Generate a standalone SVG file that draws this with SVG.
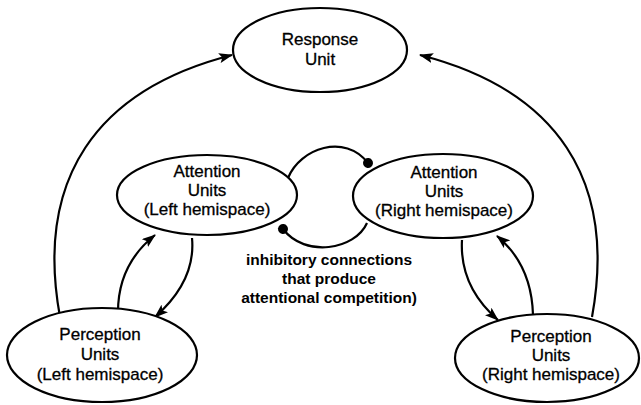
<svg xmlns="http://www.w3.org/2000/svg" width="641" height="405" viewBox="0 0 641 405">
<style>
.node ellipse{fill:#fff;stroke:#000;stroke-width:2.2}
.node text{font-family:"Liberation Sans",Arial,sans-serif;font-size:17px;text-anchor:middle;fill:#000;stroke:#000;stroke-width:0.3}
.conn path{fill:none;stroke:#000;stroke-width:2.2}
.lbl{font-family:"Liberation Sans",Arial,sans-serif;font-size:15.5px;font-weight:bold;text-anchor:middle;fill:#000}
</style>
<defs>
<marker id="arr" markerUnits="userSpaceOnUse" markerWidth="14" markerHeight="10" refX="13" refY="5" orient="auto">
<path d="M0,0 L14,5 L0,10 L3,5 z" fill="#000"/>
</marker>
<marker id="dot" markerUnits="userSpaceOnUse" markerWidth="12" markerHeight="12" refX="6" refY="6" orient="auto">
<circle cx="6" cy="6" r="5" fill="#000"/>
</marker>
</defs>
<g id="connectors" class="conn">
<path d="M60,317 C35,180 95,90 232,55" marker-end="url(#arr)"/>
<path d="M592,317 C617,180 557,90 420,55" marker-end="url(#arr)"/>
<path d="M118,312 C118,280 130,255 155,235" marker-end="url(#arr)"/>
<path d="M192,238 C195,270 180,295 155,317" marker-end="url(#arr)"/>
<path d="M462,240 C460,275 475,300 498,320" marker-end="url(#arr)"/>
<path d="M533,315 C532,280 520,255 497,236" marker-end="url(#arr)"/>
<path d="M288,178 C300,148 345,133 368,163" marker-end="url(#dot)"/>
<path d="M367,223 C355,250 305,258 283,229" marker-end="url(#dot)"/>
</g>
<g id="response" class="node">
<ellipse cx="320" cy="50" rx="87" ry="42"/>
<text x="320" y="45">Response</text>
<text x="320" y="65">Unit</text>
</g>
<g id="attention-left" class="node">
<ellipse cx="207" cy="195" rx="90" ry="40"/>
<text x="207" y="177">Attention</text>
<text x="207" y="196">Units</text>
<text x="207" y="215">(Left hemispace)</text>
</g>
<g id="attention-right" class="node">
<ellipse cx="443" cy="196" rx="90" ry="42"/>
<text x="444" y="178">Attention</text>
<text x="444" y="197">Units</text>
<text x="444" y="216">(Right hemispace)</text>
</g>
<g id="perception-left" class="node">
<ellipse cx="102" cy="355" rx="95" ry="47"/>
<text x="100" y="340">Perception</text>
<text x="100" y="360">Units</text>
<text x="100" y="380">(Left hemispace)</text>
</g>
<g id="perception-right" class="node">
<ellipse cx="547" cy="358" rx="92" ry="44"/>
<text x="551" y="342">Perception</text>
<text x="551" y="361">Units</text>
<text x="551" y="380">(Right hemispace)</text>
</g>
<g id="label">
<text class="lbl" x="329" y="265">inhibitory connections</text>
<text class="lbl" x="329" y="284">that produce</text>
<text class="lbl" x="329" y="303">attentional competition)</text>
</g>
</svg>
